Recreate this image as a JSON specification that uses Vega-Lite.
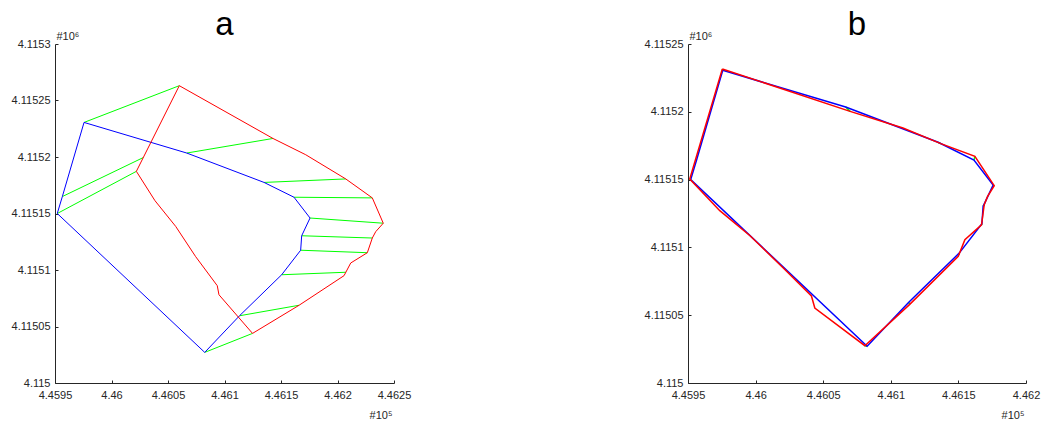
{
  "$schema": "https://vega.github.io/schema/vega-lite/v6.json",
  "background": "white",
  "padding": {"left": 11, "top": 9, "right": 5, "bottom": 5},
  "config": {
    "view": {"stroke": null},
    "font": "Liberation Sans",
    "axis": {"domainColor": "#262626", "tickColor": "#262626", "labelColor": "#262626", "tickSize": -3, "grid": false, "labelFont": "Liberation Sans", "labelFontSize": 11, "titleFont": "Liberation Sans", "titleFontSize": 11, "titleFontWeight": "normal", "titleColor": "#262626", "domainWidth": 1, "tickWidth": 1, "labelFlush": false, "labelOverlap": false},
    "title": {"fontSize": 33, "font": "Liberation Sans", "fontWeight": "normal", "color": "#000000", "anchor": "middle", "frame": "group", "offset": -12}
  },
  "datasets": {
    "poly": [
      {"p":"a","s":"blue","g":"b","o":1,"x":445952,"y":4115150},
      {"p":"a","s":"blue","g":"b","o":2,"x":445956.5,"y":4115165},
      {"p":"a","s":"blue","g":"b","o":3,"x":445975.7,"y":4115230.6},
      {"p":"a","s":"blue","g":"b","o":4,"x":446066.6,"y":4115203.5},
      {"p":"a","s":"blue","g":"b","o":5,"x":446135,"y":4115177.5},
      {"p":"a","s":"blue","g":"b","o":6,"x":446161.5,"y":4115164.4},
      {"p":"a","s":"blue","g":"b","o":7,"x":446175.7,"y":4115146},
      {"p":"a","s":"blue","g":"b","o":8,"x":446168.3,"y":4115130.3},
      {"p":"a","s":"blue","g":"b","o":9,"x":446167.4,"y":4115117.5},
      {"p":"a","s":"blue","g":"b","o":10,"x":446150.6,"y":4115095.8},
      {"p":"a","s":"blue","g":"b","o":11,"x":446113.3,"y":4115059.5},
      {"p":"a","s":"blue","g":"b","o":12,"x":446082.5,"y":4115027.1},
      {"p":"a","s":"blue","g":"b","o":13,"x":445952,"y":4115150},

      {"p":"a","s":"red","g":"r","o":1,"x":446060,"y":4115263.1},
      {"p":"a","s":"red","g":"r","o":2,"x":446142.9,"y":4115216.4},
      {"p":"a","s":"red","g":"r","o":3,"x":446171.9,"y":4115202},
      {"p":"a","s":"red","g":"r","o":4,"x":446207.3,"y":4115180.6},
      {"p":"a","s":"red","g":"r","o":5,"x":446230.8,"y":4115163.8},
      {"p":"a","s":"red","g":"r","o":6,"x":446240.5,"y":4115141.4},
      {"p":"a","s":"red","g":"r","o":7,"x":446233.8,"y":4115133.9},
      {"p":"a","s":"red","g":"r","o":8,"x":446230.8,"y":4115128.3},
      {"p":"a","s":"red","g":"r","o":9,"x":446226.4,"y":4115115.3},
      {"p":"a","s":"red","g":"r","o":10,"x":446211.7,"y":4115106.2},
      {"p":"a","s":"red","g":"r","o":11,"x":446205.8,"y":4115095},
      {"p":"a","s":"red","g":"r","o":12,"x":446166,"y":4115068.8},
      {"p":"a","s":"red","g":"r","o":13,"x":446124.8,"y":4115043.9},
      {"p":"a","s":"red","g":"r","o":14,"x":446095.1,"y":4115078.1},
      {"p":"a","s":"red","g":"r","o":15,"x":446093.6,"y":4115086.1},
      {"p":"a","s":"red","g":"r","o":16,"x":446074.5,"y":4115111.8},
      {"p":"a","s":"red","g":"r","o":17,"x":446056.8,"y":4115138.6},
      {"p":"a","s":"red","g":"r","o":18,"x":446038.5,"y":4115161.3},
      {"p":"a","s":"red","g":"r","o":19,"x":446022,"y":4115187.3},
      {"p":"a","s":"red","g":"r","o":20,"x":446060,"y":4115263.1},

      {"p":"a","s":"green","g":"g1","o":1,"x":445975.7,"y":4115230.6},
      {"p":"a","s":"green","g":"g1","o":2,"x":446060,"y":4115263.1},
      {"p":"a","s":"green","g":"g2","o":1,"x":446066.6,"y":4115203.5},
      {"p":"a","s":"green","g":"g2","o":2,"x":446142.9,"y":4115216.4},
      {"p":"a","s":"green","g":"g3","o":1,"x":446135,"y":4115177.5},
      {"p":"a","s":"green","g":"g3","o":2,"x":446207.3,"y":4115180.6},
      {"p":"a","s":"green","g":"g4","o":1,"x":446161.5,"y":4115164.4},
      {"p":"a","s":"green","g":"g4","o":2,"x":446230.8,"y":4115163.8},
      {"p":"a","s":"green","g":"g5","o":1,"x":446175.7,"y":4115146},
      {"p":"a","s":"green","g":"g5","o":2,"x":446240.5,"y":4115141.4},
      {"p":"a","s":"green","g":"g6","o":1,"x":446168.3,"y":4115130.3},
      {"p":"a","s":"green","g":"g6","o":2,"x":446230.8,"y":4115128.3},
      {"p":"a","s":"green","g":"g7","o":1,"x":446167.4,"y":4115117.5},
      {"p":"a","s":"green","g":"g7","o":2,"x":446226.4,"y":4115115.3},
      {"p":"a","s":"green","g":"g8","o":1,"x":446150.6,"y":4115095.8},
      {"p":"a","s":"green","g":"g8","o":2,"x":446207.4,"y":4115098},
      {"p":"a","s":"green","g":"g9","o":1,"x":446113.3,"y":4115059.5},
      {"p":"a","s":"green","g":"g9","o":2,"x":446166,"y":4115068.8},
      {"p":"a","s":"green","g":"g10","o":1,"x":446082.5,"y":4115027.1},
      {"p":"a","s":"green","g":"g10","o":2,"x":446124.8,"y":4115043.9},
      {"p":"a","s":"green","g":"g11","o":1,"x":445952,"y":4115150},
      {"p":"a","s":"green","g":"g11","o":2,"x":446022,"y":4115187.3},
      {"p":"a","s":"green","g":"g12","o":1,"x":445956.5,"y":4115165},
      {"p":"a","s":"green","g":"g12","o":2,"x":446028.1,"y":4115199.5},

      {"p":"b","s":"blue","g":"b","o":1,"x":445952,"y":4115150},
      {"p":"b","s":"blue","g":"b","o":2,"x":445956.5,"y":4115165},
      {"p":"b","s":"blue","g":"b","o":3,"x":445975.7,"y":4115230.6},
      {"p":"b","s":"blue","g":"b","o":4,"x":446066.6,"y":4115203.5},
      {"p":"b","s":"blue","g":"b","o":5,"x":446135,"y":4115177.5},
      {"p":"b","s":"blue","g":"b","o":6,"x":446161.5,"y":4115164.4},
      {"p":"b","s":"blue","g":"b","o":7,"x":446175.7,"y":4115146},
      {"p":"b","s":"blue","g":"b","o":8,"x":446168.3,"y":4115130.3},
      {"p":"b","s":"blue","g":"b","o":9,"x":446167.4,"y":4115117.5},
      {"p":"b","s":"blue","g":"b","o":10,"x":446150.6,"y":4115095.8},
      {"p":"b","s":"blue","g":"b","o":11,"x":446113.3,"y":4115059.5},
      {"p":"b","s":"blue","g":"b","o":12,"x":446082.5,"y":4115027.1},
      {"p":"b","s":"blue","g":"b","o":13,"x":445952,"y":4115150},

      {"p":"b","s":"red","g":"r","o":1,"x":445975.4,"y":4115231.6},
      {"p":"b","s":"red","g":"r","o":2,"x":446069.9,"y":4115200.3},
      {"p":"b","s":"red","g":"r","o":3,"x":446109,"y":4115188},
      {"p":"b","s":"red","g":"r","o":4,"x":446137,"y":4115176.5},
      {"p":"b","s":"red","g":"r","o":5,"x":446162.2,"y":4115167.1},
      {"p":"b","s":"red","g":"r","o":6,"x":446176.5,"y":4115145.5},
      {"p":"b","s":"red","g":"r","o":7,"x":446171.6,"y":4115137.6},
      {"p":"b","s":"red","g":"r","o":8,"x":446169.1,"y":4115131.5},
      {"p":"b","s":"red","g":"r","o":9,"x":446167.1,"y":4115116.7},
      {"p":"b","s":"red","g":"r","o":10,"x":446154.8,"y":4115105.7},
      {"p":"b","s":"red","g":"r","o":11,"x":446149.9,"y":4115093.4},
      {"p":"b","s":"red","g":"r","o":12,"x":446114,"y":4115058},
      {"p":"b","s":"red","g":"r","o":13,"x":446080.8,"y":4115027.5},
      {"p":"b","s":"red","g":"r","o":14,"x":446043.8,"y":4115055.3},
      {"p":"b","s":"red","g":"r","o":15,"x":446041.3,"y":4115064.2},
      {"p":"b","s":"red","g":"r","o":16,"x":446020.3,"y":4115085},
      {"p":"b","s":"red","g":"r","o":17,"x":445995.9,"y":4115108.6},
      {"p":"b","s":"red","g":"r","o":18,"x":445973.5,"y":4115127.1},
      {"p":"b","s":"red","g":"r","o":19,"x":445951.3,"y":4115150.4},
      {"p":"b","s":"red","g":"r","o":20,"x":445975.4,"y":4115231.6},

      {"p":"b","s":"green","g":"g1","o":1,"x":445975.7,"y":4115230.6},
      {"p":"b","s":"green","g":"g1","o":2,"x":445975.4,"y":4115231.6},
      {"p":"b","s":"green","g":"g2","o":1,"x":446066.6,"y":4115203.5},
      {"p":"b","s":"green","g":"g2","o":2,"x":446069.9,"y":4115200.3},
      {"p":"b","s":"green","g":"g3","o":1,"x":446135,"y":4115177.5},
      {"p":"b","s":"green","g":"g3","o":2,"x":446137,"y":4115176.5},
      {"p":"b","s":"green","g":"g4","o":1,"x":446161.5,"y":4115164.4},
      {"p":"b","s":"green","g":"g4","o":2,"x":446162.2,"y":4115167.1},
      {"p":"b","s":"green","g":"g5","o":1,"x":446175.7,"y":4115146},
      {"p":"b","s":"green","g":"g5","o":2,"x":446176.5,"y":4115145.5},
      {"p":"b","s":"green","g":"g6","o":1,"x":446168.3,"y":4115130.3},
      {"p":"b","s":"green","g":"g6","o":2,"x":446169.1,"y":4115131.5},
      {"p":"b","s":"green","g":"g7","o":1,"x":446167.4,"y":4115117.5},
      {"p":"b","s":"green","g":"g7","o":2,"x":446167.1,"y":4115116.7},
      {"p":"b","s":"green","g":"g8","o":1,"x":446150.6,"y":4115095.8},
      {"p":"b","s":"green","g":"g8","o":2,"x":446150.5,"y":4115094.5},
      {"p":"b","s":"green","g":"g9","o":1,"x":446113.3,"y":4115059.5},
      {"p":"b","s":"green","g":"g9","o":2,"x":446114,"y":4115058},
      {"p":"b","s":"green","g":"g10","o":1,"x":446082.5,"y":4115027.1},
      {"p":"b","s":"green","g":"g10","o":2,"x":446080.8,"y":4115027.5},
      {"p":"b","s":"green","g":"g11","o":1,"x":445952,"y":4115150},
      {"p":"b","s":"green","g":"g11","o":2,"x":445951.3,"y":4115150.4}
    ]
  },
  "data": {"name": "poly"},
  "spacing": 233,
  "hconcat": [
    {
      "width": 339,
      "height": 339,
      "title": {"text": "a"},
      "transform": [{"filter": "datum.p === 'a'"}],
      "encoding": {
        "x": {"field": "x", "type": "quantitative",
              "scale": {"domain": [445950, 446250], "nice": false, "zero": false},
              "axis": {"values": [445950, 446000, 446050, 446100, 446150, 446200, 446250],
                       "labelExpr": "format(datum.value / 100000, '.6~g')",
                       "labelPadding": 9,
                       "title": "#10⁵", "titleAngle": 0, "titleAlign": "right", "titleBaseline": "alphabetic",
                       "titleX": 337, "titleY": 35}},
        "y": {"field": "y", "type": "quantitative",
              "scale": {"domain": [4115000, 4115300], "nice": false, "zero": false},
              "axis": {"values": [4115000, 4115050, 4115100, 4115150, 4115200, 4115250, 4115300],
                       "labelExpr": "format(datum.value / 1000000, '.6~g')",
                       "labelPadding": 8,
                       "title": "#10⁶", "titleAngle": 0, "titleAlign": "left", "titleBaseline": "alphabetic",
                       "titleX": 1, "titleY": -5}},
        "detail": {"field": "g"},
        "order": {"field": "o", "type": "quantitative"}
      },
      "layer": [
        {"transform": [{"filter": "datum.s === 'green'"}], "mark": {"type": "line", "color": "#00ff00", "strokeWidth": 1}},
        {"transform": [{"filter": "datum.s === 'blue'"}], "mark": {"type": "line", "color": "#0000ff", "strokeWidth": 1}},
        {"transform": [{"filter": "datum.s === 'red'"}], "mark": {"type": "line", "color": "#ff0000", "strokeWidth": 1}}
      ]
    },
    {
      "width": 338,
      "height": 339,
      "title": {"text": "b"},
      "transform": [{"filter": "datum.p === 'b'"}],
      "encoding": {
        "x": {"field": "x", "type": "quantitative",
              "scale": {"domain": [445950, 446200], "nice": false, "zero": false},
              "axis": {"values": [445950, 446000, 446050, 446100, 446150, 446200],
                       "labelExpr": "format(datum.value / 100000, '.6~g')",
                       "labelPadding": 9,
                       "title": "#10⁵", "titleAngle": 0, "titleAlign": "right", "titleBaseline": "alphabetic",
                       "titleX": 336, "titleY": 35}},
        "y": {"field": "y", "type": "quantitative",
              "scale": {"domain": [4115000, 4115250], "nice": false, "zero": false},
              "axis": {"values": [4115000, 4115050, 4115100, 4115150, 4115200, 4115250],
                       "labelExpr": "format(datum.value / 1000000, '.6~g')",
                       "labelPadding": 8,
                       "title": "#10⁶", "titleAngle": 0, "titleAlign": "left", "titleBaseline": "alphabetic",
                       "titleX": 1, "titleY": -5}},
        "detail": {"field": "g"},
        "order": {"field": "o", "type": "quantitative"}
      },
      "layer": [
        {"transform": [{"filter": "datum.s === 'green'"}], "mark": {"type": "line", "color": "#00ff00", "strokeWidth": 1.5}},
        {"transform": [{"filter": "datum.s === 'blue'"}], "mark": {"type": "line", "color": "#0000ff", "strokeWidth": 1.5}},
        {"transform": [{"filter": "datum.s === 'red'"}], "mark": {"type": "line", "color": "#ff0000", "strokeWidth": 1.5}}
      ]
    }
  ]
}
